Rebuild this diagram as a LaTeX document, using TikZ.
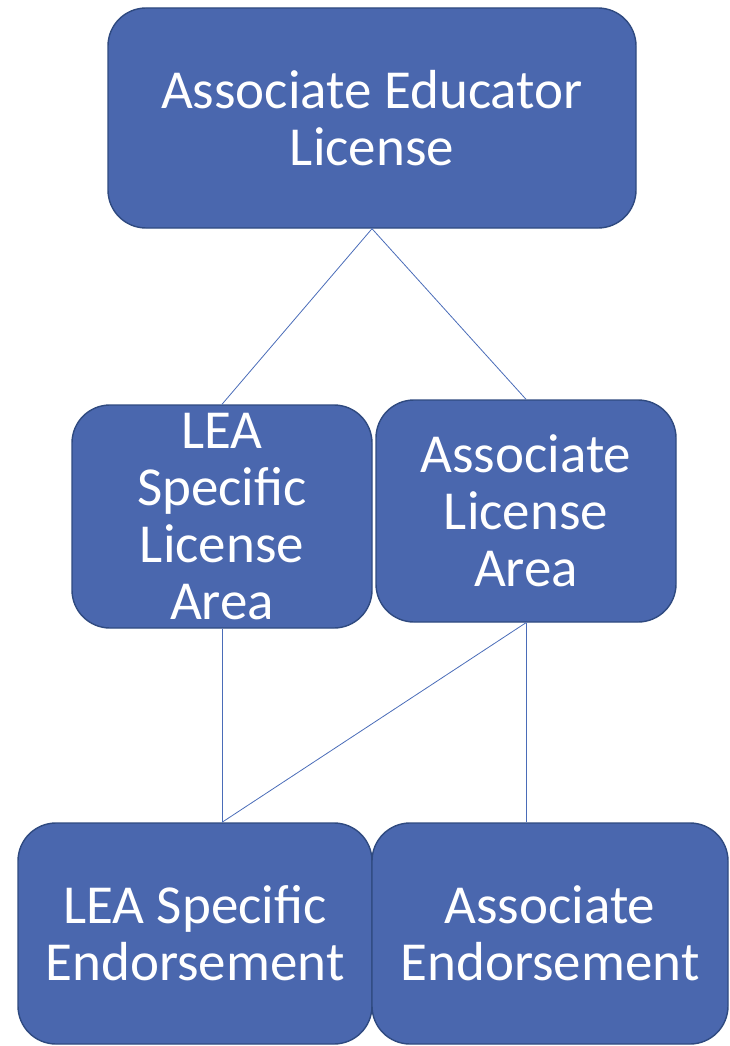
\documentclass[tikz,border=0pt]{standalone}
\usepackage{fontspec}
\setmainfont{Carlito}
\definecolor{boxfill}{HTML}{4A67AE}
\definecolor{boxline}{HTML}{2F4A80}
\definecolor{linkc}{HTML}{4A6CB8}
\tikzset{
  card/.style={draw=boxline, line width=1.4pt, fill=boxfill, rounded corners=38pt,
    text=white, align=center, inner sep=0pt,
    font=\fontsize{55}{57}\selectfont},
  link/.style={draw=linkc, line width=0.8pt}
}
\begin{document}
\begin{tikzpicture}[x=1pt,y=-1pt]
\useasboundingbox (0,0) rectangle (730,1046);
\node[card, minimum width=528pt, minimum height=220pt] (top) at (372,118) {Associate Educator\\License};
\node[card, minimum width=300pt, minimum height=223pt] (ml) at (222,516.5) {LEA\\Specific\\License\\Area};
\node[card, minimum width=300pt, minimum height=222pt] (mr) at (526,511) {Associate\\License\\Area};
\node[card, minimum width=354pt, minimum height=221pt] (bl) at (195,933.5) {LEA Specific\\Endorsement};
\node[card, minimum width=356pt, minimum height=221pt] (br) at (550,933.5) {Associate\\Endorsement};
\coordinate (blin) at (bl.north -| ml.south);
\coordinate (brin) at (br.north -| mr.south);
\draw[link] (top.south) -- (ml.north);
\draw[link] (top.south) -- (mr.north);
\draw[link] (ml.south) -- (blin);
\draw[link] (mr.south) -- (blin);
\draw[link] (mr.south) -- (brin);
\end{tikzpicture}
\end{document}
